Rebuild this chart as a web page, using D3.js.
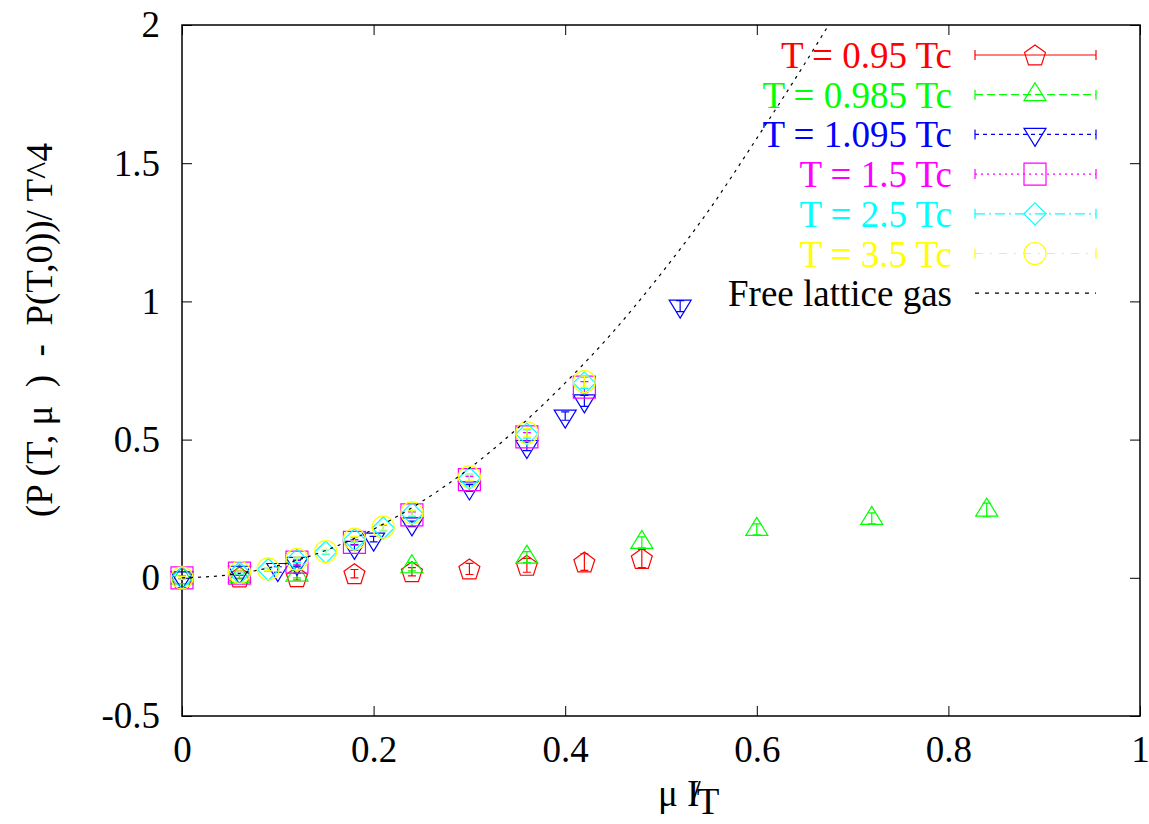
<!DOCTYPE html>
<html>
<head>
<meta charset="utf-8">
<script src="https://cdn.jsdelivr.net/npm/d3@7"></script>
<style>
  body { margin: 0; background: #fff; }
  svg text { font-family: "Liberation Serif", "Times New Roman", serif; }
</style>
</head>
<body>
<svg id="chart" width="1149" height="824"></svg>
<script>
// data: [mu_I/T, value, error]
var t095  = [[0,0,0.005],[0.06,0.003,0.006],[0.12,0.004,0.012],[0.18,0.015,0.015],[0.24,0.022,0.015],[0.30,0.032,0.02],[0.36,0.045,0.025],[0.42,0.057,0.03],[0.48,0.07,0.033]];
var t0985 = [[0,0,0.005],[0.06,0.005,0.006],[0.12,0.01,0.01],[0.24,0.04,0.015],[0.36,0.075,0.02],[0.48,0.128,0.02],[0.60,0.175,0.02],[0.72,0.215,0.02],[0.84,0.245,0.025]];
var t1095 = [[0,0,0.005],[0.06,0.02,0.005],[0.10,0.03,0.01],[0.12,0.052,0.01],[0.18,0.11,0.01],[0.20,0.14,0.01],[0.24,0.195,0.01],[0.30,0.325,0.012],[0.36,0.475,0.015],[0.40,0.585,0.015],[0.42,0.64,0.02],[0.52,0.983,0.02]];
var t15   = [[0,0,0.005],[0.06,0.017,0.005],[0.12,0.057,0.008],[0.18,0.128,0.01],[0.24,0.228,0.01],[0.30,0.355,0.012],[0.36,0.51,0.015],[0.42,0.69,0.02]];
var t25   = [[0,0,0.005],[0.06,0.017,0.005],[0.09,0.03,0.006],[0.12,0.064,0.008],[0.15,0.093,0.008],[0.18,0.137,0.01],[0.21,0.18,0.01],[0.24,0.232,0.01],[0.30,0.36,0.012],[0.36,0.52,0.015],[0.42,0.705,0.02]];
var t35   = [[0,0,0.005],[0.06,0.02,0.005],[0.09,0.032,0.006],[0.12,0.067,0.008],[0.15,0.095,0.008],[0.18,0.14,0.01],[0.21,0.183,0.01],[0.24,0.235,0.01],[0.30,0.365,0.012],[0.36,0.525,0.015],[0.42,0.71,0.02]];

// free lattice gas curve
var freeX = [0,0.05,0.1,0.15,0.2,0.25,0.3,0.35,0.4,0.45,0.5,0.55,0.6,0.65,0.675];
var freeY = [0,0.011,0.044,0.099,0.176,0.275,0.396,0.54,0.705,0.89,1.1,1.33,1.59,1.86,2.0];

var xTicks = [0,0.2,0.4,0.6,0.8,1];
var yTicks = [-0.5,0,0.5,1,1.5,2];

var seriesNames = ["T = 0.95 Tc","T = 0.985 Tc","T = 1.095 Tc","T = 1.5 Tc","T = 2.5 Tc","T = 3.5 Tc"];
var seriesData = [t095, t0985, t1095, t15, t25, t35];
var seriesColors = ["#ff0000","#00ff00","#0000ff","#ff00ff","#00ffff","#ffff00"];
var seriesDash = ["none","8,4","4,4","2,4","10,4,2,4","8,7,2,7"];
var seriesShape = ["pentagon","triangle","triangleDown","square","diamond","circle"];

var svg = d3.select("#chart");
var plotL = 182, plotR = 1140, plotT = 25, plotB = 716;
var fontSize = "37px";

var x = d3.scaleLinear().domain([0,1]).range([plotL,plotR]);
var y = d3.scaleLinear().domain([-0.5,2]).range([plotB,plotT]);

// marker outlines around (0,0)
function shapePath(kind) {
    var p = d3.path();
    if (kind === "pentagon") {
        for (var i = 0; i < 5; i++) {
            var a = -Math.PI/2 + i*2*Math.PI/5, r = 11;
            if (i === 0) p.moveTo(r*Math.cos(a), r*Math.sin(a)+1);
            else p.lineTo(r*Math.cos(a), r*Math.sin(a)+1);
        }
        p.closePath();
    } else if (kind === "triangle") {
        p.moveTo(0,-12); p.lineTo(11,6); p.lineTo(-11,6); p.closePath();
    } else if (kind === "triangleDown") {
        p.moveTo(0,12); p.lineTo(11,-6); p.lineTo(-11,-6); p.closePath();
    } else if (kind === "square") {
        p.rect(-11,-11,22,22);
    } else if (kind === "diamond") {
        p.moveTo(0,-11); p.lineTo(11,0); p.lineTo(0,11); p.lineTo(-11,0); p.closePath();
    } else {
        p.arc(0,0,11,0,2*Math.PI);
    }
    return p.toString();
}

// frame
svg.append("rect")
    .attr("x", plotL).attr("y", plotT)
    .attr("width", plotR-plotL).attr("height", plotB-plotT)
    .attr("fill","none").attr("stroke","#000").attr("stroke-width",1.5);

function styleAxis(g) {
    g.select(".domain").remove();
    g.selectAll(".tick line").attr("stroke","#000");
    g.selectAll(".tick text").style("font-size",fontSize).attr("fill","#000");
}

// plain hyphen for negatives, like the original
function plain(d) { return String(d); }

svg.append("g")
    .attr("transform","translate(0,"+plotB+")")
    .call(d3.axisBottom(x).tickValues(xTicks).tickSize(-10).tickPadding(20).tickFormat(plain))
    .call(styleAxis);
svg.append("g")
    .attr("transform","translate(0,"+plotT+")")
    .call(d3.axisTop(x).tickValues(xTicks).tickSize(-10).tickFormat(""))
    .call(styleAxis);
svg.append("g")
    .attr("transform","translate("+plotL+",0)")
    .call(d3.axisLeft(y).tickValues(yTicks).tickSize(-10).tickPadding(22).tickFormat(plain))
    .call(styleAxis);
svg.append("g")
    .attr("transform","translate("+plotR+",0)")
    .call(d3.axisRight(y).tickValues(yTicks).tickSize(-10).tickFormat(""))
    .call(styleAxis);

// axis labels
svg.append("text")
    .attr("transform","translate(52,517) rotate(-90)")
    .style("font-size",fontSize)
    .style("white-space","pre")
    .attr("fill","#000")
    .text("(P (T, \u03bc  )  -  P(T,0))/ T^4");

var xl = svg.append("text")
    .attr("x", 658).attr("y", 806)
    .style("font-size",fontSize)
    .style("white-space","pre")
    .attr("fill","#000");
xl.append("tspan").text("\u03bc I");
xl.append("tspan").attr("dx",-9).text("/");
xl.append("tspan").attr("dy",8).attr("dx",-4).text("T");

// data
var plot = svg.append("g");
seriesData.forEach(function(data, i) {
    var g = plot.append("g")
        .attr("stroke", seriesColors[i]).attr("fill","none").attr("stroke-width",1.2);
    var pts = g.selectAll("g.pt").data(data).enter().append("g")
        .attr("class","pt")
        .attr("transform", function(d){ return "translate("+x(d[0])+","+y(d[1])+")"; });
    pts.append("path").attr("d", shapePath(seriesShape[i]));
    pts.append("path").attr("d", function(d) {
        var h = y(0) - y(d[2]);
        return "M0," + (-h) + "V" + h + "M-4," + (-h) + "H4M-4," + h + "H4";
    });
});

// free lattice gas
var freeLine = d3.line()
    .x(function(d){ return x(d[0]); })
    .y(function(d){ return y(d[1]); })
    .curve(d3.curveMonotoneX);
svg.append("path")
    .datum(freeX.map(function(v,i){ return [v, freeY[i]]; }))
    .attr("d", freeLine)
    .attr("fill","none").attr("stroke","#000").attr("stroke-width",1.2)
    .attr("stroke-dasharray","3,5");

// legend
var lx0 = 975, lx1 = 1096, lmx = 1035, textRight = 952, ly0 = 55, ldy = 39.7;
seriesNames.forEach(function(name, i) {
    var cy = ly0 + i*ldy;
    svg.append("text")
        .attr("x", textRight).attr("y", cy+13)
        .attr("text-anchor","end")
        .style("font-size",fontSize)
        .attr("fill", seriesColors[i])
        .text(name);
    var g = svg.append("g").attr("stroke", seriesColors[i]).attr("fill","none").attr("stroke-width",1.2);
    g.append("line").attr("x1",lx0).attr("x2",lx1).attr("y1",cy).attr("y2",cy)
        .attr("stroke-dasharray", seriesDash[i]);
    g.append("path").attr("d","M"+lx0+","+(cy-5)+"V"+(cy+5)+"M"+lx1+","+(cy-5)+"V"+(cy+5));
    g.append("path").attr("transform","translate("+lmx+","+cy+")").attr("d", shapePath(seriesShape[i]));
});
var fy = ly0 + 6*ldy;
svg.append("text")
    .attr("x", textRight).attr("y", fy+13)
    .attr("text-anchor","end")
    .style("font-size",fontSize)
    .attr("fill","#000")
    .text("Free lattice gas");
svg.append("line").attr("x1",lx0).attr("x2",lx1).attr("y1",fy).attr("y2",fy)
    .attr("stroke","#000").attr("stroke-width",1.2).attr("stroke-dasharray","4,6");
</script>
</body>
</html>
